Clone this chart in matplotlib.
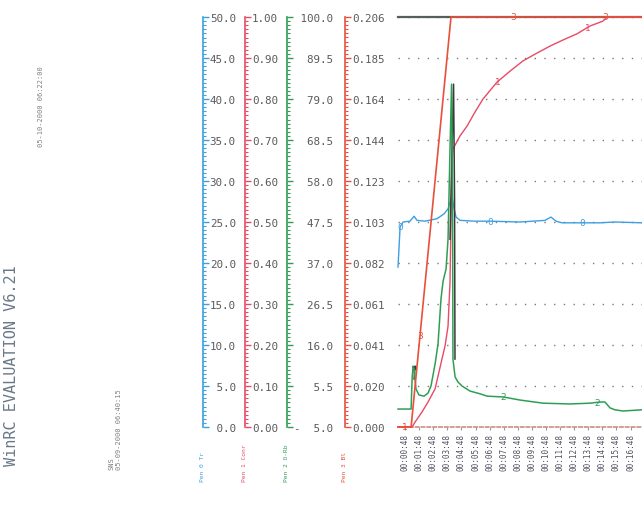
import numpy as np
import matplotlib
matplotlib.use("Agg")
import matplotlib.pyplot as plt
from matplotlib.ticker import FixedLocator, AutoMinorLocator
from matplotlib import transforms

MONO = "DejaVu Sans Mono"

# time axis (minutes from start of run)
tick_min = list(range(17))
tick_lbl = ["00:00:48", "00:01:48", "00:02:48", "00:03:48", "00:04:48", "00:05:48",
            "00:06:48", "00:07:48", "00:08:48", "00:09:48", "00:10:48", "00:11:48",
            "00:12:48", "00:13:48", "00:14:48", "00:15:48", "00:16:48"]

# pen 0 - Tr (0..50)
tr_t = [-0.50, -0.35, -0.14, 0.35, 0.64, 0.85, 1.42, 2.27, 2.77, 3.05, 3.26, 3.33,
        3.48, 3.62, 3.90, 4.96, 6.03, 8.16, 9.93, 10.35, 10.71, 11.13, 13.83, 14.89, 16.81]
tr_v = [19.5, 24.4, 25.0, 25.1, 25.7, 25.2, 25.1, 25.4, 26.0, 26.6, 27.8, 28.2,
        26.6, 25.6, 25.2, 25.1, 25.1, 25.0, 25.2, 25.6, 25.1, 24.9, 24.9, 25.0, 24.9]

# pen 1 - Conr (0..1)
conr_t = [-0.50, 0.50, 0.71, 1.21, 1.63, 2.13, 2.34, 2.62, 2.84, 3.05, 3.19, 3.33, 3.40,
          3.90, 4.40, 4.96, 5.53, 6.52, 7.45, 8.37, 9.36, 10.28, 11.21, 12.20, 13.12,
          14.04, 14.33, 16.81]
conr_v = [0.0, 0.0, 0.012, 0.037, 0.061, 0.093, 0.124, 0.166, 0.198, 0.246, 0.354, 0.654,
          0.678, 0.710, 0.734, 0.768, 0.800, 0.841, 0.868, 0.893, 0.912, 0.929, 0.944,
          0.959, 0.978, 0.990, 1.0, 1.0]

# pen 2 - O-Rb (-5..100)
orb_t = [-0.50, 0.43, 0.50, 0.57, 0.64, 0.78, 0.99, 1.35, 1.63, 1.84, 2.13, 2.34, 2.55,
         2.70, 2.91, 3.05, 3.19, 3.30, 3.37, 3.40, 3.55, 3.76, 4.04, 4.61, 5.32, 5.82,
         6.95, 8.16, 9.79, 11.70, 13.12, 13.83, 14.18, 14.54, 14.89, 15.46, 16.81]
orb_v = [-0.4, -0.4, 7.3, 10.6, 9.9, 4.7, 3.2, 2.9, 3.7, 5.5, 11.1, 16.3, 27.8,
         32.4, 35.5, 43.1, 66.2, 82.8, 53.4, 12.4, 7.8, 6.5, 5.5, 4.2, 3.5, 2.9,
         2.7, 1.9, 1.1, 0.9, 1.1, 1.4, 1.4, -0.1, -0.6, -0.9, -0.6]

# pen 3 - Bl (0..0.206)
bl_t = [-0.50, 0.43, 3.26, 16.81]
bl_v = [0.0, 0.0, 0.206, 0.206]

# scale ticks
tr_ticks = [0, 5, 10, 15, 20, 25, 30, 35, 40, 45, 50]
tr_lbl = [" 0.0", " 5.0", "10.0", "15.0", "20.0", "25.0", "30.0", "35.0", "40.0", "45.0", "50.0"]
conr_ticks = [0.0, 0.1, 0.2, 0.3, 0.4, 0.5, 0.6, 0.7, 0.8, 0.9, 1.0]
conr_lbl = ["0.00", "0.10", "0.20", "0.30", "0.40", "0.50", "0.60", "0.70", "0.80", "0.90", "1.00"]
orb_ticks = [-5.0, 5.5, 16.0, 26.5, 37.0, 47.5, 58.0, 68.5, 79.0, 89.5, 100.0]
orb_lbl = ["-  5.0", "   5.5", "  16.0", "  26.5", "  37.0", "  47.5", "  58.0", "  68.5",
           "  79.0", "  89.5", " 100.0"]
bl_ticks = [0.0, 0.0206, 0.0412, 0.0618, 0.0824, 0.103, 0.1236, 0.1442, 0.1648, 0.1854, 0.206]
bl_lbl = ["0.000", "0.020", "0.041", "0.061", "0.082", "0.103", "0.123", "0.144", "0.164",
          "0.185", "0.206"]

C_TR = "#3c9fe0"
C_CONR = "#e84a66"
C_ORB = "#2f9e55"
C_BL = "#e8503c"

fig = plt.figure(figsize=(6.42, 5.06), dpi=100)
ax = fig.add_axes([398 / 642, 1 - 428 / 506, 244 / 642, 410 / 506])
ax_c = ax.twinx()
ax_g = ax.twinx()
ax_b = ax.twinx()


def scale_axis(a, offset, color, lo, hi, ticks, labels):
    a.set_ylim(lo, hi)
    for s in a.spines.values():
        s.set_visible(False)
    sp = a.spines["right"]
    sp.set_visible(True)
    sp.set_position(("axes", offset))
    sp.set_color(color)
    sp.set_linewidth(1.2)
    a.yaxis.set_ticks_position("right")
    a.yaxis.set_major_locator(FixedLocator(ticks))
    a.yaxis.set_ticklabels(labels)
    a.yaxis.set_minor_locator(AutoMinorLocator(10))
    a.tick_params(axis="y", which="major", direction="out", length=4, width=1,
                  color=color, pad=1, labelsize=7.8, labelcolor="#5a5a5a")
    a.tick_params(axis="y", which="minor", direction="out", length=2.2, width=0.8, color=color)
    for lab in a.get_yticklabels():
        lab.set_fontfamily(MONO)


xlo, xhi = -0.5, 16.81
ax.set_xlim(xlo, xhi)
scale_axis(ax, -0.80, C_TR, 0, 50, tr_ticks, tr_lbl)
scale_axis(ax_c, -0.627, C_CONR, 0, 1.0, conr_ticks, conr_lbl)
scale_axis(ax_g, -0.455, C_ORB, -5, 100, orb_ticks, orb_lbl)
scale_axis(ax_b, -0.217, C_BL, 0, 0.206, bl_ticks, bl_lbl)

# frame of plotting area
ax.spines["top"].set_visible(True)
ax.spines["top"].set_color("#55605a")
ax.spines["top"].set_linewidth(1.6)
ax.spines["bottom"].set_visible(True)
ax.spines["bottom"].set_color("#c89088")
ax.spines["bottom"].set_linestyle((0, (2, 1.5)))
ax.spines["bottom"].set_linewidth(1.2)
ax.grid(axis="y", linestyle=(0, (1, 6)), color="#7a7a7a", linewidth=1.0)

ax.xaxis.set_major_locator(FixedLocator(tick_min))
ax.set_xticklabels(tick_lbl, rotation=90, fontsize=5.5, family=MONO, color="#505060")
ax.tick_params(axis="x", direction="out", length=2.5, width=0.8, color="#999999", pad=2)

# curves
ax.plot(tr_t, tr_v, color=C_TR, lw=1.0, clip_on=False)
ax_b.plot(bl_t, bl_v, color=C_BL, lw=1.2, clip_on=False)
ax_c.plot(conr_t, conr_v, color=C_CONR, lw=1.0, clip_on=False)

orb_t_a = np.array(orb_t)
orb_v_a = np.array(orb_v)
spike = np.where(((orb_t_a > 2.95) & (orb_t_a < 3.45)) | ((orb_t_a > 0.45) & (orb_t_a < 0.7)),
                 orb_v_a, np.nan)
shift = transforms.offset_copy(ax_g.transData, fig=fig, x=2, y=0, units="dots")
ax_g.plot(orb_t_a, spike, color="#3a3a3a", lw=1.1, transform=shift, clip_on=False)
ax_g.plot(orb_t, orb_v, color=C_ORB, lw=1.1, clip_on=False)

# pen numbers along the traces
def tag(a, t, tt, vv, s, color):
    a.text(t, np.interp(t, tt, vv), s, color=color, fontsize=6.5, ha="center", va="center")


for t in (-0.35, 6.03, 12.55):
    tag(ax, t, tr_t, tr_v, "0", C_TR)
for t in (6.60, 12.98):
    tag(ax_c, t, conr_t, conr_v, "1", C_CONR)
tag(ax_c, 0.0, conr_t, conr_v, "1", C_BL)
for t in (1.06, 7.66, 14.18):
    tag(ax_b, t, bl_t, bl_v, "3", C_BL)
for t in (6.95, 13.62):
    tag(ax_g, t, orb_t, orb_v, "2", C_ORB)

# header / footer text
fig.text(12 / 642, 1 - 366 / 506, "WinRC EVALUATION V6.21", rotation=90, ha="center",
         va="center", family=MONO, fontsize=11, color="#6a7888")
fig.text(41 / 642, 1 - 107 / 506, "05-10-2000 06:22:00", rotation=90, ha="center",
         va="center", family=MONO, fontsize=5, color="#808080")
fig.text(111 / 642, 1 - 470 / 506, "SNS", rotation=90, ha="center", va="bottom",
         family=MONO, fontsize=5, color="#808080")
fig.text(119 / 642, 1 - 470 / 506, "05-09-2000 06:40:15", rotation=90, ha="center",
         va="bottom", family=MONO, fontsize=5, color="#808080")

pen_x = [203, 245, 287, 345]
pen_lbl = ["Pen 0 Tr", "Pen 1 Conr", "Pen 2 O-Rb", "Pen 3 Bl"]
pen_col = [C_TR, C_CONR, C_ORB, C_BL]
for px, s, c in zip(pen_x, pen_lbl, pen_col):
    fig.text(px / 642, 1 - 482 / 506, s, rotation=90, ha="center", va="bottom",
             family=MONO, fontsize=4.5, color=c)

fig.savefig("out.png", dpi=100)
